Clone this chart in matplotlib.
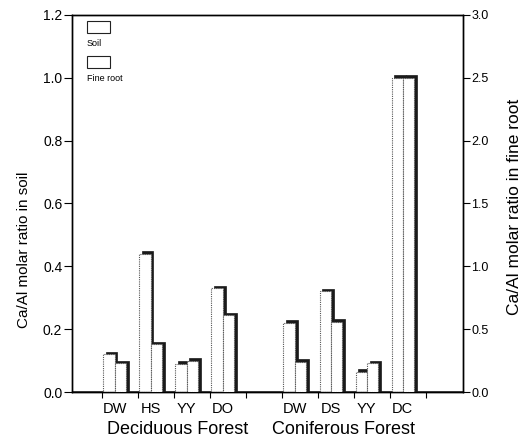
import numpy as np
import matplotlib.pyplot as plt
from matplotlib.patches import Rectangle

plt.rcParams['font.family'] = ['Liberation Sans', 'DejaVu Sans']

# --- data ---
sites = ['DW', 'HS', 'YY', 'DO', 'DW', 'DS', 'YY', 'DC']
slots = [1, 2, 3, 4, 6, 7, 8, 9]          # slot index along x (5 = gap between forests)
soil = [0.12, 0.44, 0.09, 0.33, 0.22, 0.32, 0.065, 1.0]     # left axis
root = [0.23, 0.38, 0.25, 0.61, 0.24, 0.56, 0.23, 2.5]      # right axis
groups = ['Deciduous Forest', 'Coniferous Forest']
group_pos = [3.08, 7.7]
soil_ticks = [0.0, 0.2, 0.4, 0.6, 0.8, 1.0, 1.2]
root_ticks = [0.0, 0.5, 1.0, 1.5, 2.0, 2.5, 3.0]

W = 0.31      # bar face width in slot units
DX = 0.08     # shadow offset (x)


def shaded_bars(axis, x, h, dy):
    x = np.asarray(x, dtype=float)
    h = np.asarray(h, dtype=float)
    axis.bar(x + DX, h + dy, width=W, align='edge', color='#1a1a1a',
             edgecolor='#1a1a1a', linewidth=0.5, zorder=3)
    axis.bar(x, h, width=W, align='edge', color='white', edgecolor='#555555',
             linewidth=0.8, linestyle=(0, (1, 1)), zorder=4)


fig = plt.figure(figsize=(5.3, 4.38), dpi=100)
ax = fig.add_axes([0.136, 0.105, 0.738, 0.861])
ax2 = ax.twinx()

x_soil = np.array(slots) + 0.03
x_root = x_soil + W

shaded_bars(ax, x_soil, soil, 0.008)
shaded_bars(ax2, x_root, root, 0.02)

ax.axhline(0, color='#444444', lw=2.0, zorder=2)

ax.set_xlim(0.16, 11.02)
ax.set_ylim(0, 1.2)
ax2.set_ylim(0, 3.0)

ax.set_yticks(soil_ticks)
ax.set_yticklabels([f'{v:.1f}' for v in soil_ticks])
ax2.set_yticks(root_ticks)
ax2.set_yticklabels([f'{v:.1f}' for v in root_ticks])

ax.set_xticks(np.arange(1, 11))
ax.set_xticklabels([])
ax.set_xticks(x_root, sites, minor=True)
ax.tick_params(axis='x', which='minor', length=0, pad=7, labelsize=10.5)
ax.tick_params(axis='x', which='major', length=4, direction='out', width=0.8)
ax.tick_params(axis='y', length=6, width=0.8, labelsize=10, pad=1)
ax2.tick_params(axis='y', length=5, width=0.8, labelsize=9, pad=1)

for a in (ax, ax2):
    for s in a.spines.values():
        s.set_linewidth(1.0)

ax.set_ylabel('Ca/Al molar ratio in soil', fontsize=11, labelpad=5)
ax.yaxis.set_label_coords(-0.104, 0.377)
ax2.set_ylabel('Ca/Al molar ratio in fine root', fontsize=12.5, labelpad=5)
ax2.yaxis.set_label_coords(1.112, 0.49)

for name, gx in zip(groups, group_pos):
    ax.text(gx, -0.12, name, ha='center', va='center', fontsize=13)

# legend boxes
for i, lab in enumerate(['Soil', 'Fine root']):
    top = 0.984 - i * 0.093
    ax.add_patch(Rectangle((0.038, top - 0.031), 0.059, 0.031, transform=ax.transAxes,
                           facecolor='white', edgecolor='#222222', lw=0.8, zorder=5))
    ax.text(0.038, top - 0.06, lab, transform=ax.transAxes, fontsize=6.5,
            ha='left', va='center')

fig.savefig('out.png', dpi=100)
